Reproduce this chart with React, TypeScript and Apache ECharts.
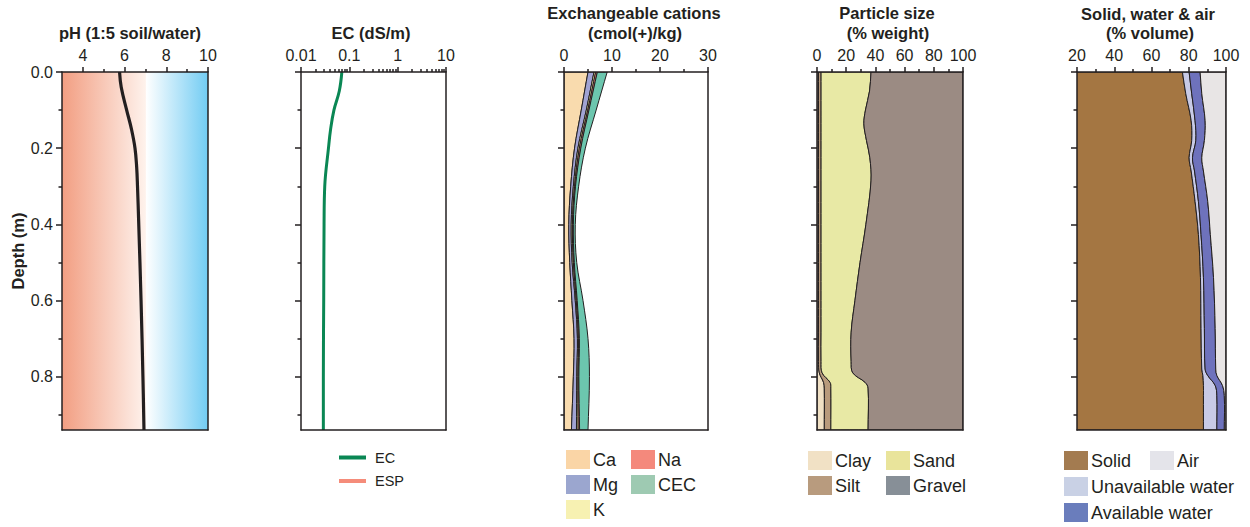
import React, { useEffect, useRef } from "react";
import * as echarts from "echarts";

const FONT = "'Liberation Sans', Arial, Helvetica, sans-serif";
const INK = "#231F20";
const DEPTH_MAX = 0.94;
const DEPTH_MAJOR = [0, 0.2, 0.4, 0.6, 0.8];
const DEPTH_MINOR = [0.1, 0.3, 0.5, 0.7, 0.9];

// pH (1:5 soil/water)
const PH_DEPTH = [0, 0.04, 0.1, 0.15, 0.2, 0.25, 0.3, 0.4, 0.6, 0.8, 0.94];
const PH_VALUE = [5.76, 5.84, 6.1, 6.33, 6.5, 6.58, 6.62, 6.68, 6.79, 6.88, 6.93];
const PH_TICKS = [4, 6, 8, 10];
const PH_MINOR = [5, 7, 9];

// EC (dS/m)
const EC_DEPTH = [0, 0.05, 0.1, 0.15, 0.2, 0.3, 0.4, 0.6, 0.8, 0.94];
const EC_VALUE = [0.07, 0.062, 0.048, 0.041, 0.037, 0.031, 0.03, 0.0295, 0.029, 0.029];
const ESP_VALUE: number[][] = [];
const EC_MINOR_MULT = [2, 3, 4, 5, 6, 7, 8, 9];
const EC_DECADES = [0.01, 0.1, 1];

// Exchangeable cations (cmol(+)/kg)
const CAT_DEPTH = [0, 0.1, 0.2, 0.3, 0.4, 0.5, 0.6, 0.7, 0.8, 0.94];
const CA = [5.0, 3.6, 2.2, 1.4, 1.0, 1.2, 1.65, 2.1, 1.95, 1.55];
const MG = [1.25, 1.05, 0.7, 0.55, 0.5, 0.5, 0.7, 0.7, 0.7, 1.05];
const K = [0.35, 0.3, 0.3, 0.25, 0.25, 0.25, 0.2, 0.2, 0.25, 0.35];
const NA = [0.35, 0.25, 0.3, 0.2, 0.2, 0.2, 0.2, 0.2, 0.2, 0.3];
const CEC = [9.0, 6.7, 4.45, 3.05, 2.35, 2.65, 3.96, 5.0, 5.3, 5.0];
const CAT_TICKS = [0, 10, 20, 30];
const CAT_MINOR = [5, 15, 25];

// Particle size (% weight)
const PS_DEPTH = [0, 0.05, 0.1, 0.136, 0.18, 0.225, 0.286, 0.4, 0.5, 0.6, 0.683, 0.76, 0.79, 0.815, 0.83, 0.94];
const CLAY = [1, 1, 1, 1, 1, 1, 1, 1, 1, 1, 1, 1, 1.6, 4.5, 5, 5];
const SILT = [1.8, 1.8, 1.8, 1.8, 1.8, 1.8, 1.8, 1.8, 1.8, 1.8, 1.8, 1.8, 1.9, 4.5, 4.5, 4.5];
const SAND = [34.2, 33.2, 30.4, 29.3, 31.1, 33.4, 34.2, 30.7, 26.7, 23.2, 20.6, 20.6, 21.0, 24.0, 25.5, 25.5];
const GRAVEL = [63, 64, 66.8, 67.9, 66.1, 63.8, 63, 66.5, 70.5, 74, 76.6, 76.6, 75.5, 67, 65, 65];
const PS_TICKS = [0, 20, 40, 60, 80, 100];
const PS_MINOR = [10, 30, 50, 70, 90];

// Solid, water & air (% volume)
const SW_DEPTH = [0, 0.057, 0.128, 0.18, 0.225, 0.26, 0.34, 0.427, 0.54, 0.674, 0.78, 0.797, 0.823, 0.85, 0.94];
const SOLID = [76.6, 78.4, 81.3, 81.6, 80.2, 81.3, 83.4, 85.2, 86.3, 86.6, 87.0, 87.6, 87.9, 87.9, 87.9];
const UNAVAIL = [3.6, 3.2, 2.1, 2.2, 1.8, 1.8, 1.8, 1.4, 1.6, 1.8, 1.8, 2.6, 6.3, 7.2, 7.2];
const AVAIL = [5.9, 5.4, 5.4, 4.6, 5.0, 4.8, 5.0, 5.0, 5.4, 5.8, 5.7, 4.9, 3.9, 4.0, 4.0];
const AIR = [13.9, 13.0, 11.2, 11.6, 13.0, 12.1, 9.8, 8.4, 6.7, 5.8, 5.5, 4.9, 1.9, 0.9, 0.9];
const SW_TICKS = [20, 40, 60, 80, 100];
const SW_MINOR = [30, 50, 70, 90];

// Layout (positions only)
const PANELS = [
  { left: 62, width: 146 },
  { left: 301, width: 145 },
  { left: 564, width: 144 },
  { left: 817, width: 146 },
  { left: 1077, width: 149 },
];
const GRID_TOP = 72;
const GRID_H = 358;

function cumulate(arrs: number[][]): number[][] {
  const out: number[][] = [];
  let prev = arrs[0].map(() => 0);
  out.push(prev);
  for (const a of arrs) {
    const next = a.map((v, i) => prev[i] + v);
    out.push(next);
    prev = next;
  }
  return out;
}

function bandSeries(name: string, color: string, axisIdx: number, depths: number[], left: number[], right: number[]) {
  return {
    type: "custom",
    name,
    xAxisIndex: axisIdx,
    yAxisIndex: axisIdx,
    clip: true,
    z: 2,
    itemStyle: { color },
    encode: { x: [0, 1], y: 2 },
    data: depths.map((d, i) => [left[i], right[i], d]),
    renderItem: (params: any, api: any) => {
      if (params.dataIndex !== 0) return null;
      const n = depths.length;
      const pts: number[][] = [];
      for (let i = 0; i < n; i++) {
        const p = api.coord([right[i], depths[i]]);
        pts.push(p);
        if (i === 0 || i === n - 1) pts.push([p[0], p[1]]);
      }
      for (let i = n - 1; i >= 0; i--) {
        const p = api.coord([left[i], depths[i]]);
        pts.push(p);
        if (i === 0 || i === n - 1) pts.push([p[0], p[1]]);
      }
      return {
        type: "polygon",
        shape: { points: pts, smooth: 0.35 },
        style: { fill: color, stroke: INK, lineWidth: 1 },
      };
    },
  };
}

function buildOption() {
  const lineStyle = { color: INK, width: 1.5 };
  const specs: any[] = [
    { type: "value", min: 3, max: 10, major: PH_TICKS, minor: PH_MINOR },
    {
      type: "log", min: 0.01, max: 10, major: null,
      minor: EC_DECADES.flatMap((d) => EC_MINOR_MULT.map((m) => Math.log10(m * d))),
      minorMin: -2, minorMax: 1,
    },
    { type: "value", min: 0, max: 30, major: CAT_TICKS, minor: CAT_MINOR },
    { type: "value", min: 0, max: 100, major: PS_TICKS, minor: PS_MINOR },
    { type: "value", min: 20, max: 100, major: SW_TICKS, minor: SW_MINOR },
  ];

  const grid = PANELS.map((p, i) => ({
    left: p.left,
    top: GRID_TOP,
    width: p.width,
    height: GRID_H,
    containLabel: false,
    outerBoundsMode: "none",
    show: i === 0,
    borderWidth: 0,
    backgroundColor:
      i === 0
        ? {
            type: "linear", x: 0, y: 0, x2: 1, y2: 0,
            colorStops: [
              { offset: 0, color: "#F29E82" },
              { offset: (7 - 3) / (10 - 3), color: "#FEF2EC" },
              { offset: (7 - 3) / (10 - 3) + 0.004, color: "#FFFFFF" },
              { offset: 1, color: "#72CCF3" },
            ],
          }
        : "transparent",
  }));

  const xAxis: any[] = [];
  const yAxis: any[] = [];
  specs.forEach((s, gi) => {
    xAxis.push({
      gridIndex: gi,
      type: s.type,
      ...(s.type === "log" ? { logBase: 10 } : {}),
      position: "top",
      min: s.min,
      max: s.max,
      z: 10,
      axisLine: { show: true, onZero: false, lineStyle },
      axisTick: { show: true, inside: false, length: 5, lineStyle, ...(s.major ? { customValues: s.major } : {}) },
      axisLabel: {
        show: true, margin: 9, fontSize: 16, color: INK, fontFamily: FONT,
        ...(s.major ? { customValues: s.major } : {}),
        formatter: (v: number) => String(Number(Number(v).toPrecision(6))),
      },
      splitLine: { show: false },
    });
    xAxis.push({
      gridIndex: gi,
      type: "value",
      position: "top",
      min: s.minorMin ?? s.min,
      max: s.minorMax ?? s.max,
      z: 10,
      axisLine: { show: false, onZero: false },
      axisTick: { show: true, inside: false, length: 3, lineStyle, customValues: s.minor },
      axisLabel: { show: false },
      splitLine: { show: false },
    });
    xAxis.push({
      gridIndex: gi,
      type: "value",
      position: "bottom",
      min: 0,
      max: 1,
      z: 10,
      axisLine: { show: true, onZero: false, lineStyle },
      axisTick: { show: false },
      axisLabel: { show: false },
      splitLine: { show: false },
    });

    yAxis.push({
      gridIndex: gi,
      type: "value",
      position: "left",
      inverse: true,
      min: 0,
      max: DEPTH_MAX,
      z: 10,
      axisLine: { show: true, onZero: false, lineStyle },
      axisTick: { show: true, length: 6, lineStyle, customValues: DEPTH_MAJOR },
      axisLabel: {
        show: gi === 0, customValues: DEPTH_MAJOR, margin: 9, fontSize: 16,
        color: INK, fontFamily: FONT, formatter: (v: number) => Number(v).toFixed(1),
      },
      splitLine: { show: false },
    });
    yAxis.push({
      gridIndex: gi,
      type: "value",
      position: "left",
      inverse: true,
      min: 0,
      max: DEPTH_MAX,
      z: 10,
      axisLine: { show: false, onZero: false },
      axisTick: { show: true, length: 3.5, lineStyle, customValues: DEPTH_MINOR },
      axisLabel: { show: false },
      splitLine: { show: false },
    });
    yAxis.push({
      gridIndex: gi,
      type: "value",
      position: "right",
      inverse: true,
      min: 0,
      max: DEPTH_MAX,
      z: 10,
      axisLine: { show: true, onZero: false, lineStyle },
      axisTick: { show: false },
      axisLabel: { show: false },
      splitLine: { show: false },
    });
  });

  const ax = (gi: number) => gi * 3;

  const catB = cumulate([CA, MG, K, NA]);
  const psB = cumulate([CLAY, SILT, SAND, GRAVEL]);
  const swB = cumulate([SOLID, UNAVAIL, AVAIL, AIR]);

  const series: any[] = [
    {
      type: "line", name: "pH", xAxisIndex: ax(0), yAxisIndex: ax(0), z: 5,
      data: PH_DEPTH.map((d, i) => [PH_VALUE[i], d]),
      smooth: 0.4, symbol: "none", color: INK,
      lineStyle: { color: INK, width: 3.2 },
    },
    {
      type: "line", name: "EC", xAxisIndex: ax(1), yAxisIndex: ax(1), z: 5,
      data: EC_DEPTH.map((d, i) => [EC_VALUE[i], d]),
      smooth: 0.4, symbol: "none", color: "#0A8754",
      lineStyle: { color: "#0A8754", width: 3 },
    },
    {
      type: "line", name: "ESP", xAxisIndex: ax(1), yAxisIndex: ax(1), z: 5,
      data: ESP_VALUE, symbol: "none", color: "#F58C7A",
      lineStyle: { color: "#F58C7A", width: 3 },
    },
    bandSeries("Ca", "#F9DBAE", ax(2), CAT_DEPTH, catB[0], catB[1]),
    bandSeries("Mg", "#A1A3D3", ax(2), CAT_DEPTH, catB[1], catB[2]),
    bandSeries("K", "#F7EFA9", ax(2), CAT_DEPTH, catB[2], catB[3]),
    bandSeries("Na", "#F38B7B", ax(2), CAT_DEPTH, catB[3], catB[4]),
    bandSeries("CEC", "#6CC6AE", ax(2), CAT_DEPTH, catB[4], CEC),
    bandSeries("Clay", "#F0E0C4", ax(3), PS_DEPTH, psB[0], psB[1]),
    bandSeries("Silt", "#B89A7C", ax(3), PS_DEPTH, psB[1], psB[2]),
    bandSeries("Sand", "#E8E9A5", ax(3), PS_DEPTH, psB[2], psB[3]),
    bandSeries("Gravel", "#9B8B83", ax(3), PS_DEPTH, psB[3], psB[4]),
    bandSeries("Solid", "#A47642", ax(4), SW_DEPTH, swB[0], swB[1]),
    bandSeries("Unavailable water", "#C8CAE6", ax(4), SW_DEPTH, swB[1], swB[2]),
    bandSeries("Available water", "#6E72BC", ax(4), SW_DEPTH, swB[2], swB[3]),
    bandSeries("Air", "#E8E5E5", ax(4), SW_DEPTH, swB[3], swB[4]),
  ];

  const legBase = {
    orient: "vertical",
    icon: "rect",
    padding: 0,
    selectedMode: false,
    itemWidth: 24,
    itemHeight: 19,
    itemGap: 6,
    itemStyle: { borderWidth: 0 },
    textStyle: { fontSize: 18, color: INK, fontFamily: FONT, padding: [0, 0, 0, -2] },
  };
  const li = (name: string, color: string) => ({ name, itemStyle: { color, borderWidth: 0 } });
  const legend: any[] = [
    {
      ...legBase, left: 339, top: 450, itemWidth: 27, itemHeight: 4, itemGap: 8.5,
      textStyle: { fontSize: 14.5, color: INK, fontFamily: FONT, padding: [0, 0, 0, 4] },
      data: [li("EC", "#0A8754"), li("ESP", "#F58C7A")],
    },
    { ...legBase, left: 566, top: 450, data: [li("Ca", "#FAD5A6"), li("Mg", "#9BA6CF"), li("K", "#F7F1B2")] },
    { ...legBase, left: 631, top: 450, data: [li("Na", "#F4897C"), li("CEC", "#9ECAB2")] },
    { ...legBase, left: 808, top: 451, data: [li("Clay", "#F1E1C5"), li("Silt", "#B89B7E")] },
    { ...legBase, left: 886, top: 451, data: [li("Sand", "#E9E49B"), li("Gravel", "#878F97")] },
    {
      ...legBase, left: 1064, top: 451, itemGap: 7,
      data: [li("Solid", "#A37B50"), li("Unavailable water", "#C9D1E5"), li("Available water", "#6A7DBC")],
    },
    { ...legBase, left: 1150, top: 451, data: [li("Air", "#E4E4EA")] },
  ];

  const titleStyle = (text: string) => ({
    text, fill: INK, fontSize: 16.5, fontWeight: "bold", fontFamily: FONT,
    align: "center", verticalAlign: "middle", textAlign: "center", textVerticalAlign: "middle",
  });
  const graphic = [
    { type: "text", x: 130, y: 33, style: titleStyle("pH (1:5 soil/water)") },
    { type: "text", x: 371, y: 33, style: titleStyle("EC (dS/m)") },
    { type: "text", x: 634, y: 13, style: titleStyle("Exchangeable cations") },
    { type: "text", x: 635, y: 33, style: titleStyle("(cmol(+)/kg)") },
    { type: "text", x: 887, y: 13, style: titleStyle("Particle size") },
    { type: "text", x: 888, y: 33, style: titleStyle("(% weight)") },
    { type: "text", x: 1148, y: 14, style: titleStyle("Solid, water & air") },
    { type: "text", x: 1150, y: 33, style: titleStyle("(% volume)") },
    { type: "text", x: 18, y: 251, rotation: Math.PI / 2, style: titleStyle("Depth (m)") },
  ];

  return {
    animation: false,
    backgroundColor: "#FFFFFF",
    textStyle: { fontFamily: FONT },
    grid,
    xAxis,
    yAxis,
    series,
    legend,
    graphic,
  };
}

export default function App() {
  const ref = useRef<HTMLDivElement>(null);
  useEffect(() => {
    if (!ref.current) return;
    const chart = echarts.init(ref.current, undefined, { renderer: "svg" });
    chart.setOption(buildOption() as any);
    return () => chart.dispose();
  }, []);
  return (
    <div
      ref={ref}
      style={{ position: "absolute", left: 0, top: 0, width: 1250, height: 527 }}
    />
  );
}
